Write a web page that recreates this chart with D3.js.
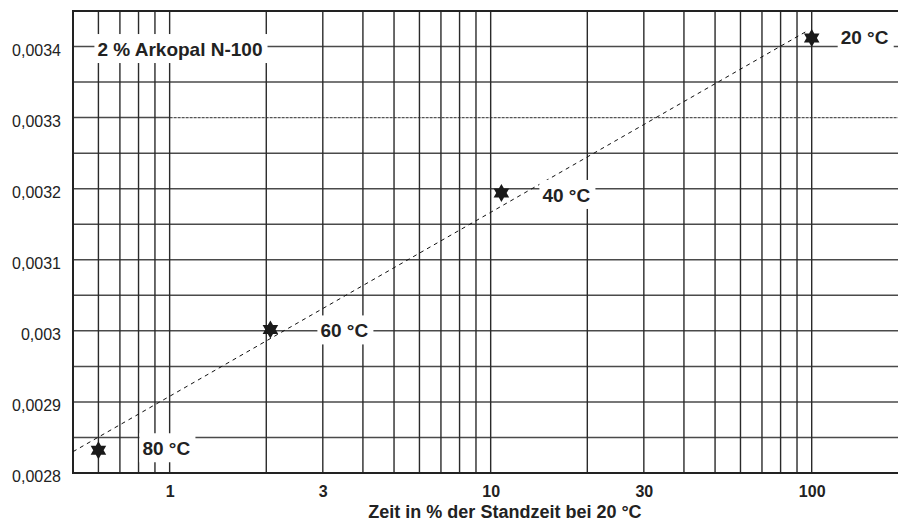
<!DOCTYPE html>
<html>
<head>
<meta charset="utf-8">
<script src="https://cdn.jsdelivr.net/npm/d3@7/dist/d3.min.js"></script>
<style>
  html, body { margin: 0; padding: 0; background: #fff; }
  svg { display: block; font-family: "Liberation Sans", Arial, sans-serif; }
</style>
</head>
<body>
<svg id="chart" width="898" height="522"></svg>
<script>
// ---- data ----
const pointLabels = ["80 °C", "60 °C", "40 °C", "20 °C"];
const timePercent = [0.6, 2.06, 10.8, 100];               // x: Zeit in % der Standzeit bei 20 °C
const inverseTemp = [0.002832, 0.003002, 0.003194, 0.003412]; // y: 1/T
const trendX = [0.5, 96];
const trendY = [0.002830, 0.003421];
const xTickValues = [1, 3, 10, 30, 100];
const xTickLabels = ["1", "3", "10", "30", "100"];
const yTickValues = [0.0028, 0.0029, 0.0030, 0.0031, 0.0032, 0.0033, 0.0034];
const yTickLabels = ["0,0028", "0,0029", "0,003", "0,0031", "0,0032", "0,0033", "0,0034"];
const xGridValues = [0.6, 0.7, 0.8, 0.9, 1, 2, 3, 4, 5, 6, 7, 8, 9, 10, 20, 30, 40, 50, 60, 70, 80, 90, 100];
const yGridValues = [0.0028, 0.00285, 0.0029, 0.00295, 0.0030, 0.00305, 0.0031, 0.00315,
                     0.0032, 0.00325, 0.0033, 0.00335, 0.0034, 0.00345];
const seriesTitle = "2 % Arkopal N-100";
const xTitle = "Zeit in % der Standzeit bei 20 °C";

// ---- layout ----
const L = 73, R = 898, T = 11, B = 473;
const labelDx = [44, 50, 41, 29];
const labelDy = [5, 8, 9, 6];

const svg = d3.select("#chart");
const x = d3.scaleLog().domain([0.5, 185.7]).range([L, R]);
const y = d3.scaleLinear().domain([0.0028, 0.00345]).range([B, T]);

// horizontal grid
svg.append("g").selectAll("line").data(yGridValues.filter(v => Math.abs(v - 0.0033) > 1e-9)).join("line")
  .attr("x1", L).attr("x2", R)
  .attr("y1", d => y(d)).attr("y2", d => y(d))
  .attr("stroke", "#4a4a4a").attr("stroke-width", 1.5);

// special 0.0033 line: solid to 1, dotted beyond
svg.append("line").attr("x1", L).attr("x2", x(1))
  .attr("y1", y(0.0033)).attr("y2", y(0.0033))
  .attr("stroke", "#4a4a4a").attr("stroke-width", 1.5);
svg.append("line").attr("x1", x(1)).attr("x2", R)
  .attr("y1", y(0.0033)).attr("y2", y(0.0033))
  .attr("stroke", "#555").attr("stroke-width", 1.3).attr("stroke-dasharray", "3,1");

// vertical grid
svg.append("g").selectAll("line").data(xGridValues).join("line")
  .attr("x1", d => x(d)).attr("x2", d => x(d))
  .attr("y1", T).attr("y2", B)
  .attr("stroke", "#2a2a2a").attr("stroke-width", 1.4);

// frame (left, top, bottom)
svg.append("path")
  .attr("d", `M${R},${T}H${L}V${B}H${R}`)
  .attr("fill", "none").attr("stroke", "#222").attr("stroke-width", 2);

// trend line
svg.append("path")
  .datum(trendX.map((v, i) => [v, trendY[i]]))
  .attr("d", d3.line().x(d => x(d[0])).y(d => y(d[1])))
  .attr("fill", "none").attr("stroke", "#111").attr("stroke-width", 1)
  .attr("stroke-dasharray", "4,4");

// axes
const xAxis = d3.axisBottom(x).tickValues(xTickValues)
  .tickFormat((d, i) => xTickLabels[i]).tickSize(0).tickPadding(13);
const gx = svg.append("g").attr("transform", `translate(0,${B})`).call(xAxis);
gx.select(".domain").remove();
gx.selectAll("text").attr("font-size", 16).attr("font-weight", "bold")
  .attr("fill", "#222").attr("font-family", "Liberation Sans, Arial, sans-serif");

const yAxis = d3.axisLeft(y).tickValues(yTickValues)
  .tickFormat((d, i) => yTickLabels[i]).tickSize(0).tickPadding(12);
const gy = svg.append("g").attr("transform", `translate(${L},0)`).call(yAxis);
gy.select(".domain").remove();
gy.selectAll("text").attr("font-size", 16).attr("dy", "0.55em")
  .attr("fill", "#222").attr("font-family", "Liberation Sans, Arial, sans-serif");

// x title
svg.append("text").attr("x", 505).attr("y", 518).attr("text-anchor", "middle")
  .attr("font-size", 18).attr("font-weight", "bold").attr("fill", "#222")
  .text(xTitle);

// boxed labels helper
function boxedLabel(tx, ty, str) {
  const g = svg.append("g");
  const rect = g.append("rect").attr("fill", "#fff");
  const t = g.append("text").attr("x", tx).attr("y", ty)
    .attr("font-size", 19).attr("font-weight", "bold").attr("fill", "#222").text(str);
  const bb = t.node().getBBox();
  rect.attr("x", bb.x - 3).attr("width", bb.width + 8)
      .attr("y", ty - 22).attr("height", 29);
}

boxedLabel(x(0.6) - 1, y(0.0034) + 9.5, seriesTitle);
pointLabels.forEach((lab, i) => {
  boxedLabel(x(timePercent[i]) + labelDx[i], y(inverseTemp[i]) + labelDy[i], lab);
});

// stars (hexagram)
function hexagram(r) {
  const ri = r / Math.sqrt(3);
  const pts = [];
  for (let k = 0; k < 12; k++) {
    const a = -Math.PI / 2 + k * Math.PI / 6;
    const rr = k % 2 === 0 ? r : ri;
    pts.push([rr * Math.cos(a), rr * Math.sin(a)]);
  }
  return "M" + pts.map(p => p.join(",")).join("L") + "Z";
}
svg.append("g").selectAll("path").data(timePercent).join("path")
  .attr("transform", (d, i) => `translate(${x(d)},${y(inverseTemp[i])})`)
  .attr("d", hexagram(9))
  .attr("fill", "#1a1a1a");
</script>
</body>
</html>
